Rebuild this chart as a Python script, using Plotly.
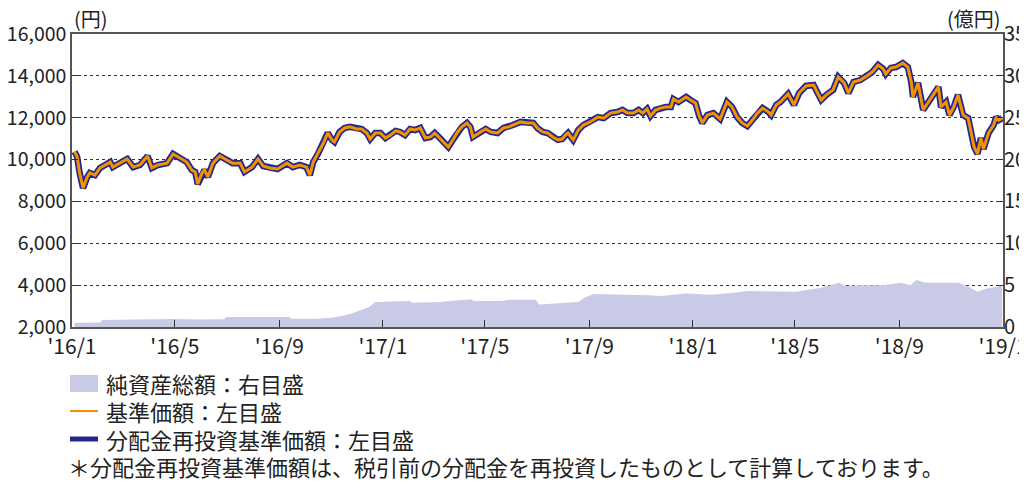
import plotly.graph_objects as go

# 基準価額 (円)
nav_dates = [
    "2016-01-04", "2016-01-07", "2016-01-10", "2016-01-14", "2016-01-19", "2016-01-22", "2016-01-28",
    "2016-02-03", "2016-02-09", "2016-02-15", "2016-02-18", "2016-02-26", "2016-03-06", "2016-03-13",
    "2016-03-21", "2016-03-30", "2016-04-04", "2016-04-11", "2016-04-22", "2016-04-29", "2016-05-07",
    "2016-05-15", "2016-05-21", "2016-05-25", "2016-05-28", "2016-06-02", "2016-06-05", "2016-06-09",
    "2016-06-15", "2016-06-23", "2016-07-01", "2016-07-08", "2016-07-17", "2016-07-22", "2016-07-31",
    "2016-08-07", "2016-08-13", "2016-08-21", "2016-08-30", "2016-09-10", "2016-09-17", "2016-09-25",
    "2016-10-03", "2016-10-07", "2016-10-11", "2016-10-17", "2016-10-23", "2016-10-28", "2016-11-02",
    "2016-11-05", "2016-11-11", "2016-11-17", "2016-11-23", "2016-12-01", "2016-12-07", "2016-12-13",
    "2016-12-17", "2016-12-23", "2016-12-29", "2017-01-04", "2017-01-10", "2017-01-16", "2017-01-21",
    "2017-01-27", "2017-02-02", "2017-02-08", "2017-02-14", "2017-02-20", "2017-02-26", "2017-03-03",
    "2017-03-09", "2017-03-13", "2017-03-19", "2017-03-25", "2017-03-30", "2017-04-04", "2017-04-10",
    "2017-04-14", "2017-04-17", "2017-04-26", "2017-05-02", "2017-05-08", "2017-05-16", "2017-05-23",
    "2017-05-29", "2017-06-03", "2017-06-12", "2017-06-20", "2017-06-27", "2017-07-02", "2017-07-08",
    "2017-07-14", "2017-07-20", "2017-07-26", "2017-07-31", "2017-08-04", "2017-08-07", "2017-08-13",
    "2017-08-19", "2017-08-25", "2017-09-02", "2017-09-11", "2017-09-18", "2017-09-26", "2017-10-04",
    "2017-10-10", "2017-10-16", "2017-10-23", "2017-10-29", "2017-11-03", "2017-11-08", "2017-11-12",
    "2017-11-18", "2017-11-24", "2017-11-30", "2017-12-06", "2017-12-09", "2017-12-15", "2017-12-24",
    "2017-12-29", "2018-01-04", "2018-01-08", "2018-01-12", "2018-01-18", "2018-01-25", "2018-02-02",
    "2018-02-10", "2018-02-16", "2018-02-22", "2018-02-28", "2018-03-06", "2018-03-12", "2018-03-18",
    "2018-03-24", "2018-03-31", "2018-04-03", "2018-04-09", "2018-04-14", "2018-04-23", "2018-04-30",
    "2018-05-06", "2018-05-14", "2018-05-23", "2018-06-01", "2018-06-07", "2018-06-15", "2018-06-21",
    "2018-06-28", "2018-07-03", "2018-07-09", "2018-07-17", "2018-07-23", "2018-07-31", "2018-08-07",
    "2018-08-13", "2018-08-16", "2018-08-22", "2018-08-28", "2018-09-05", "2018-09-11", "2018-09-15",
    "2018-09-17", "2018-09-23", "2018-09-29", "2018-10-05", "2018-10-11", "2018-10-17", "2018-10-20",
    "2018-10-26", "2018-10-30", "2018-11-04", "2018-11-09", "2018-11-15", "2018-11-21", "2018-11-25",
    "2018-11-28", "2018-12-02", "2018-12-06", "2018-12-09", "2018-12-15", "2018-12-21", "2018-12-24",
    "2018-12-27", "2018-12-31",
]
nav = [
    10380, 10140, 9360, 8640, 9170, 9360, 9260,
    9600, 9740, 9880, 9640, 9830, 10030, 9640,
    9740, 10170, 9600, 9740, 9830, 10270, 10080,
    9880, 9500, 9410, 8830, 9360, 9500, 9170,
    9830, 10170, 9980, 9830, 9830, 9410, 9640,
    10030, 9690, 9600, 9550, 9830, 9640, 9740,
    9640, 9260, 9880, 10310, 10790, 11270, 10940,
    10840, 11320, 11510, 11560, 11460, 11460, 11270,
    10980, 11270, 11270, 11030, 11170, 11370, 11320,
    11170, 11460, 11410, 11510, 11030, 11080, 11270,
    11030, 10890, 10600, 10980, 11320, 11560, 11750,
    11560, 11080, 11320, 11460, 11320, 11270, 11510,
    11560, 11650, 11800, 11750, 11750, 11500, 11320,
    11270, 11080, 10940, 10980, 11170, 11270, 10940,
    11410, 11650, 11800, 12030, 11980, 12220, 12270,
    12370, 12220, 12220, 12370, 12220, 12420, 12080,
    12370, 12460, 12510, 12510, 12890, 12750, 12990,
    12850, 12700, 12130, 11750, 12130, 12220, 11940,
    12750, 12510, 12030, 11750, 11600, 11890, 12220,
    12460, 12270, 12130, 12610, 12750, 13130, 12610,
    13180, 13520, 13560, 12850, 13090, 13330, 13950,
    13660, 13180, 13710, 13800, 13950, 14180, 14520,
    14330, 14090, 14380, 14420, 14610, 14420, 13710,
    12990, 13660, 12370, 12750, 13090, 13470, 12510,
    12750, 12130, 12510, 13090, 12130, 11980, 11270,
    10600, 10270, 11030, 10500, 11270, 11650, 12030,
    11890, 11980,
]
# 分配金再投資基準価額 (円): no distributions in the period, so it matches the NAV
reinvest_nav = list(nav)

# 純資産総額 (億円)
aum_dates = [
    "2016-01-04", "2016-02-04", "2016-02-05", "2016-04-29", "2016-06-01", "2016-06-28", "2016-07-01",
    "2016-09-13", "2016-09-15", "2016-10-16", "2016-10-31", "2016-11-14", "2016-11-25", "2016-12-06",
    "2016-12-16", "2016-12-23", "2017-01-14", "2017-02-01", "2017-02-05", "2017-03-09", "2017-03-31",
    "2017-04-15", "2017-04-18", "2017-05-21", "2017-05-28", "2017-06-30", "2017-07-04", "2017-08-01",
    "2017-08-19", "2017-08-26", "2017-09-06", "2017-11-10", "2017-11-25", "2017-12-24", "2018-01-22",
    "2018-02-19", "2018-03-06", "2018-05-03", "2018-06-01", "2018-06-22", "2018-06-30", "2018-07-14",
    "2018-08-12", "2018-09-03", "2018-09-14", "2018-09-21", "2018-10-02", "2018-10-24", "2018-11-10",
    "2018-11-21", "2018-12-02", "2018-12-13", "2018-12-31",
]
aum = [
    0.5, 0.55, 0.85, 0.96, 0.9, 0.92, 1.2,
    1.2, 1.0, 1.0, 1.1, 1.3, 1.6, 2.0,
    2.4, 3.0, 3.05, 3.1, 2.9, 3.0, 3.2,
    3.3, 3.1, 3.1, 3.25, 3.25, 2.7, 2.9,
    3.0, 3.5, 3.94, 3.8, 3.7, 4.0, 3.85,
    4.1, 4.3, 4.2, 4.7, 5.3, 4.9, 5.0,
    5.0, 5.3, 5.0, 5.6, 5.3, 5.3, 5.3,
    4.8, 4.2, 4.6, 4.94,
]

tick_dates = ["2016-01-01", "2016-05-01", "2016-09-01", "2017-01-01", "2017-05-01",
              "2017-09-01", "2018-01-01", "2018-05-01", "2018-09-01", "2019-01-01"]
tick_labels = ["'16/1", "'16/5", "'16/9", "'17/1", "'17/5",
               "'17/9", "'18/1", "'18/5", "'18/9", "'19/1"]

legend_labels = ["純資産総額：右目盛", "基準価額：左目盛", "分配金再投資基準価額：左目盛"]
footnote = "＊分配金再投資基準価額は、税引前の分配金を再投資したものとして計算しております。"

FONT = "Noto Sans CJK JP"
AREA = "#c8cae6"
ORANGE = "#f39200"
NAVY = "#24288c"

# the page body has an 8px margin, so the figure is a bit smaller than the window
OFF = 8
W, H = 1019, 482
L, R, T, B = 64, 24, 26, 163


def px(x, y):
    # page pixel -> paper coords
    return (x - OFF - L) / (W - L - R), (H - B - (y - OFF)) / (H - T - B)


fig = go.Figure()

fig.add_trace(go.Scatter(
    x=aum_dates, y=aum, yaxis="y2",
    mode="lines", line=dict(width=0, color=AREA),
    fill="tozeroy", fillcolor=AREA,
    name=legend_labels[0], showlegend=False,
))
fig.add_trace(go.Scatter(
    x=nav_dates, y=reinvest_nav,
    mode="lines", line=dict(color=NAVY, width=6.5),
    name=legend_labels[2], showlegend=False,
))
fig.add_trace(go.Scatter(
    x=nav_dates, y=nav,
    mode="lines", line=dict(color=ORANGE, width=3),
    name=legend_labels[1], showlegend=False,
))

# legend drawn by hand
shapes = []
annotations = []
x0, _ = px(70, 0)
x1, _ = px(98, 0)
_, yb0 = px(0, 375)
_, yb1 = px(0, 392)
shapes.append(dict(type="rect", xref="paper", yref="paper", x0=x0, x1=x1, y0=yb1, y1=yb0,
                   fillcolor=AREA, line=dict(width=0)))
_, yo = px(0, 411)
shapes.append(dict(type="line", xref="paper", yref="paper", x0=x0, x1=x1, y0=yo, y1=yo,
                   line=dict(color=ORANGE, width=2)))
_, yn = px(0, 439)
shapes.append(dict(type="line", xref="paper", yref="paper", x0=x0, x1=x1, y0=yn, y1=yn,
                   line=dict(color=NAVY, width=5)))

tx, _ = px(104, 0)
for label, yy in zip(legend_labels, [383, 411, 439]):
    _, yp = px(0, yy)
    annotations.append(dict(text=label, xref="paper", yref="paper", x=tx, y=yp,
                            xanchor="left", yanchor="middle", showarrow=False,
                            font=dict(size=22, color="#222", family=FONT)))
fx, _ = px(66, 0)
_, fy = px(0, 466)
annotations.append(dict(text=footnote, xref="paper", yref="paper", x=fx, y=fy,
                        xanchor="left", yanchor="middle", showarrow=False,
                        font=dict(size=22, color="#222", family=FONT)))

# unit labels, kept inside the top edge of the figure
_, uy = px(0, 18)
annotations.append(dict(text="(円)", xref="paper", yref="paper", x=0, y=uy,
                        xanchor="left", yanchor="middle", showarrow=False,
                        font=dict(size=20, color="#222", family=FONT)))
annotations.append(dict(text="(億円)", xref="paper", yref="paper", x=1, y=uy,
                        xanchor="right", yanchor="middle", showarrow=False,
                        font=dict(size=20, color="#222", family=FONT)))

fig.update_layout(
    width=W, height=H,
    margin=dict(l=L, r=R, t=T, b=B, autoexpand=False),
    paper_bgcolor="white", plot_bgcolor="white",
    font=dict(family=FONT, color="#222"),
    showlegend=False,
    shapes=shapes,
    annotations=annotations,
    xaxis=dict(
        type="date", range=["2016-01-01", "2019-01-01"],
        tickvals=tick_dates, ticktext=tick_labels,
        ticks="inside", ticklen=7, tickcolor="#333",
        showgrid=False, showline=True, linecolor="#555", linewidth=1.5, mirror=True,
        tickfont=dict(size=21, family=FONT), automargin=False,
        ticklabeloverflow="allow",
    ),
    yaxis=dict(
        range=[2000, 16000], dtick=2000, tickformat=",d",
        ticks="inside", ticklen=6, tickcolor="#333",
        showgrid=True, gridcolor="#333", griddash="dot", gridwidth=1,
        showline=True, linecolor="#555", linewidth=1.5, mirror=True,
        zeroline=False, tickfont=dict(size=19.5, family=FONT), automargin=False,
        ticklabeloverflow="allow",
    ),
    yaxis2=dict(
        range=[0, 35], dtick=5, overlaying="y", side="right",
        ticks="inside", ticklen=6, tickcolor="#333",
        showgrid=False, zeroline=False, showline=False,
        tickfont=dict(size=20, family=FONT), automargin=False,
        ticklabeloverflow="allow",
    ),
)

fig.write_html("out.html")
